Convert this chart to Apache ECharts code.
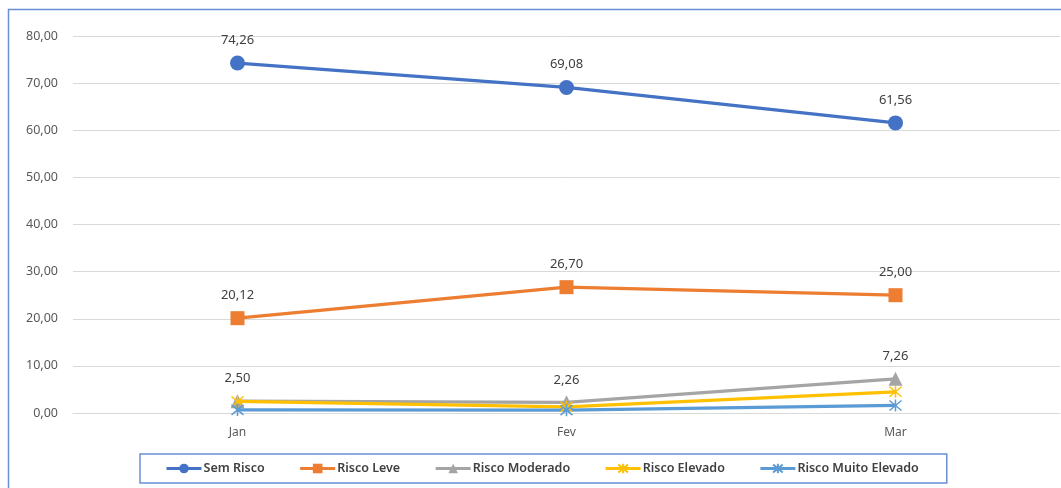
<!DOCTYPE html>
<html>
<head>
<meta charset="utf-8">
<style>
  html, body { margin: 0; padding: 0; background: #fff; }
  #container { width: 1061px; height: 488px; }
</style>
<script src="https://cdn.jsdelivr.net/npm/echarts@6/dist/echarts.min.js"></script>
</head>
<body>
<div id="container"></div>
<script>
const months = ['Jan', 'Fev', 'Mar'];
const semRisco = [74.26, 69.08, 61.56];
const riscoLeve = [20.12, 26.70, 25.00];
const riscoModerado = [2.50, 2.26, 7.26];
const riscoElevado = [2.45, 1.3, 4.5];
const riscoMuitoElevado = [0.65, 0.6, 1.6];

const fmt = (v) => Number(v).toFixed(2).replace('.', ',');
const asterisk = 'path://M0,0L10,10M10,0L0,10M5,-1L5,11';

function lineSeries(name, data, color, symbol, size, showLabel, z) {
  return {
    name: name,
    type: 'line',
    data: data,
    z: z,
    symbol: symbol,
    symbolSize: size,
    lineStyle: { color: color, width: 3.2 },
    itemStyle: symbol === asterisk
      ? { color: 'rgba(0,0,0,0)', borderColor: color, borderWidth: 1.5 }
      : { color: color },
    label: {
      show: showLabel,
      position: 'top',
      distance: 9,
      color: '#404040',
      fontSize: 13,
      fontFamily: 'Noto Sans',
      formatter: (p) => fmt(p.value),
    },
  };
}

var myChart = echarts.init(document.getElementById('container'));

let option = {
  animation: false,
  backgroundColor: '#fff',
  graphic: [
    {
      type: 'polyline',
      shape: { points: [[8.5, 488], [8.5, 9.5], [1061, 9.5]] },
      style: { stroke: '#6a8fd6', lineWidth: 1.5, fill: null },
      silent: true,
    },
  ],
  grid: {
    left: 73,
    right: 1,
    top: 36,
    bottom: 75,
  },
  xAxis: {
    type: 'category',
    data: months,
    boundaryGap: true,
    axisLine: { lineStyle: { color: '#d9d9d9' } },
    axisTick: { show: false },
    axisLabel: { color: '#595959', fontSize: 12, fontFamily: 'Noto Sans', margin: 14 },
  },
  yAxis: {
    type: 'value',
    min: 0,
    max: 80,
    interval: 10,
    axisLine: { show: false },
    axisTick: { show: false },
    splitLine: { lineStyle: { color: '#d9d9d9' } },
    axisLabel: {
      color: '#595959',
      fontSize: 12.5,
      fontFamily: 'Noto Sans',
      margin: 15,
      formatter: (v) => fmt(v),
    },
  },
  legend: {
    left: 140,
    top: 454,
    itemWidth: 35,
    itemHeight: 12,
    itemGap: 34,
    padding: [8, 28, 8, 25],
    borderColor: '#6a8fd6',
    borderWidth: 1.5,
    lineStyle: { width: 3 },
    textStyle: { color: '#404040', fontSize: 12.5, fontFamily: 'Noto Sans', fontWeight: 600, padding: [0, 0, 0, -3] },
    data: ['Sem Risco', 'Risco Leve', 'Risco Moderado', 'Risco Elevado', 'Risco Muito Elevado'],
  },
  series: [
    lineSeries('Sem Risco', semRisco, '#4472C4', 'circle', 15, true, 5),
    lineSeries('Risco Leve', riscoLeve, '#ED7D31', 'rect', 14, true, 4),
    lineSeries('Risco Moderado', riscoModerado, '#A5A5A5', 'triangle', 14, true, 2),
    lineSeries('Risco Elevado', riscoElevado, '#FFC000', asterisk, 12, false, 3),
    lineSeries('Risco Muito Elevado', riscoMuitoElevado, '#5B9BD5', asterisk, 12, false, 3),
  ],
};

myChart.setOption(option);
</script>
</body>
</html>
